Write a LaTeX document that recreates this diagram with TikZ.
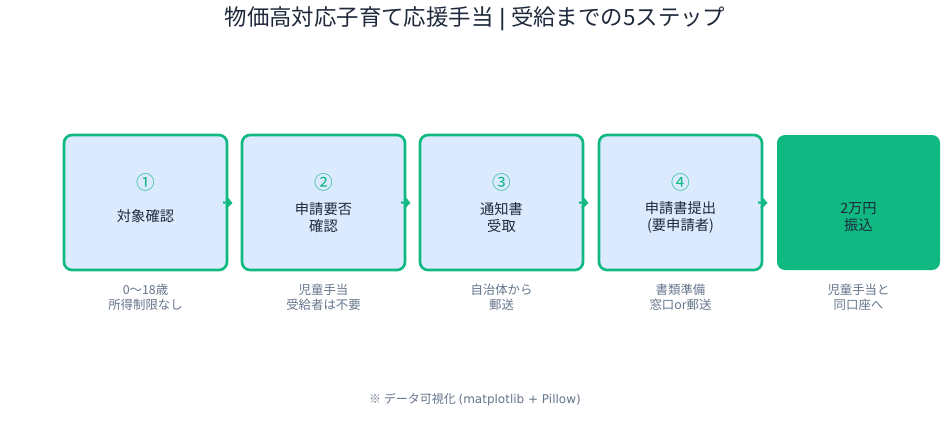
\documentclass[tikz,border=0pt]{standalone}
\usepackage{fontspec}
\setmainfont{Noto Sans CJK JP}
\newfontfamily\djv{DejaVu Sans}
\usetikzlibrary{arrows.meta}
\definecolor{navy}{HTML}{1E293B}
\definecolor{emer}{HTML}{10B981}
\definecolor{lblue}{HTML}{DBEAFE}
\definecolor{slate}{HTML}{64748B}
\tikzset{
  stepbox/.style={draw=emer, line width=2pt, fill=lblue, rounded corners=6pt, minimum width=163*0.75pt, minimum height=135*0.75pt, inner sep=0pt},
  finalbox/.style={fill=emer, rounded corners=6pt, minimum width=163*0.75pt, minimum height=135*0.75pt, inner sep=0pt},
  numtxt/.style={text=emer, font=\fontsize{14pt}{15pt}\selectfont},
  maintxt/.style={text=navy, align=center, font=\fontsize{10.7pt}{12.8pt}\selectfont},
  subtxt/.style={text=slate, align=center, font=\fontsize{9.3pt}{11.3pt}\selectfont},
  flow/.style={draw=emer, line width=1.6pt, -{Straight Barb[length=3.5pt,width=7.5pt]}}
}
\begin{document}
\begin{tikzpicture}[x=0.75pt,y=-0.75pt]
\useasboundingbox (0,0) rectangle (950,444);
\node[text=navy, font=\fontsize{16.8pt}{18pt}\selectfont] (title) at (475,19) {物価高対応子育て応援手当 {\djv|} 受給までの5ステップ};
\node[stepbox] (b1) at (145.5,202.5) {};
\node[stepbox] (b2) at (323.5,202.5) {};
\node[stepbox] (b3) at (501.5,202.5) {};
\node[stepbox] (b4) at (680.5,202.5) {};
\node[finalbox] (b5) at (858.5,202.5) {};
\node[numtxt] (n1) at (145.5,182) {①};
\node[numtxt] (n2) at (323.5,182) {②};
\node[numtxt] (n3) at (501.5,182) {③};
\node[numtxt] (n4) at (680.5,182) {④};
\node[maintxt] (m1) at (145.5,216) {対象確認};
\node[maintxt] (m2) at (323.5,217.5) {申請要否\\確認};
\node[maintxt] (m3) at (501.5,217.5) {通知書\\受取};
\node[maintxt] (m4) at (680.5,217.5) {申請書提出\\(要申請者)};
\node[maintxt] (m5) at (858.5,217) {2万円\\振込};
\node[subtxt] (s1) at (145.5,297.5) {0〜18歳\\所得制限なし};
\node[subtxt] (s2) at (323.5,297.5) {児童手当\\受給者は不要};
\node[subtxt] (s3) at (501.5,297.5) {自治体から\\郵送};
\node[subtxt] (s4) at (680.5,297.5) {書類準備\\窓口or郵送};
\node[subtxt] (s5) at (858.5,297.5) {児童手当と\\同口座へ};
\coordinate (a1) at (232.5,203);
\coordinate (a2) at (410.5,203);
\coordinate (a3) at (588.5,203);
\coordinate (a4) at (767.5,203);
\draw[flow] ([xshift=-4pt]b1.east) -- (a1);
\draw[flow] ([xshift=-4pt]b2.east) -- (a2);
\draw[flow] ([xshift=-4pt]b3.east) -- (a3);
\draw[flow] ([xshift=-4pt]b4.east) -- (a4);
\node[text=slate, font=\fontsize{9pt}{11pt}\selectfont] (foot) at (475,400) {※ データ可視化 {\djv(matplotlib + Pillow)}};
\end{tikzpicture}
\end{document}
